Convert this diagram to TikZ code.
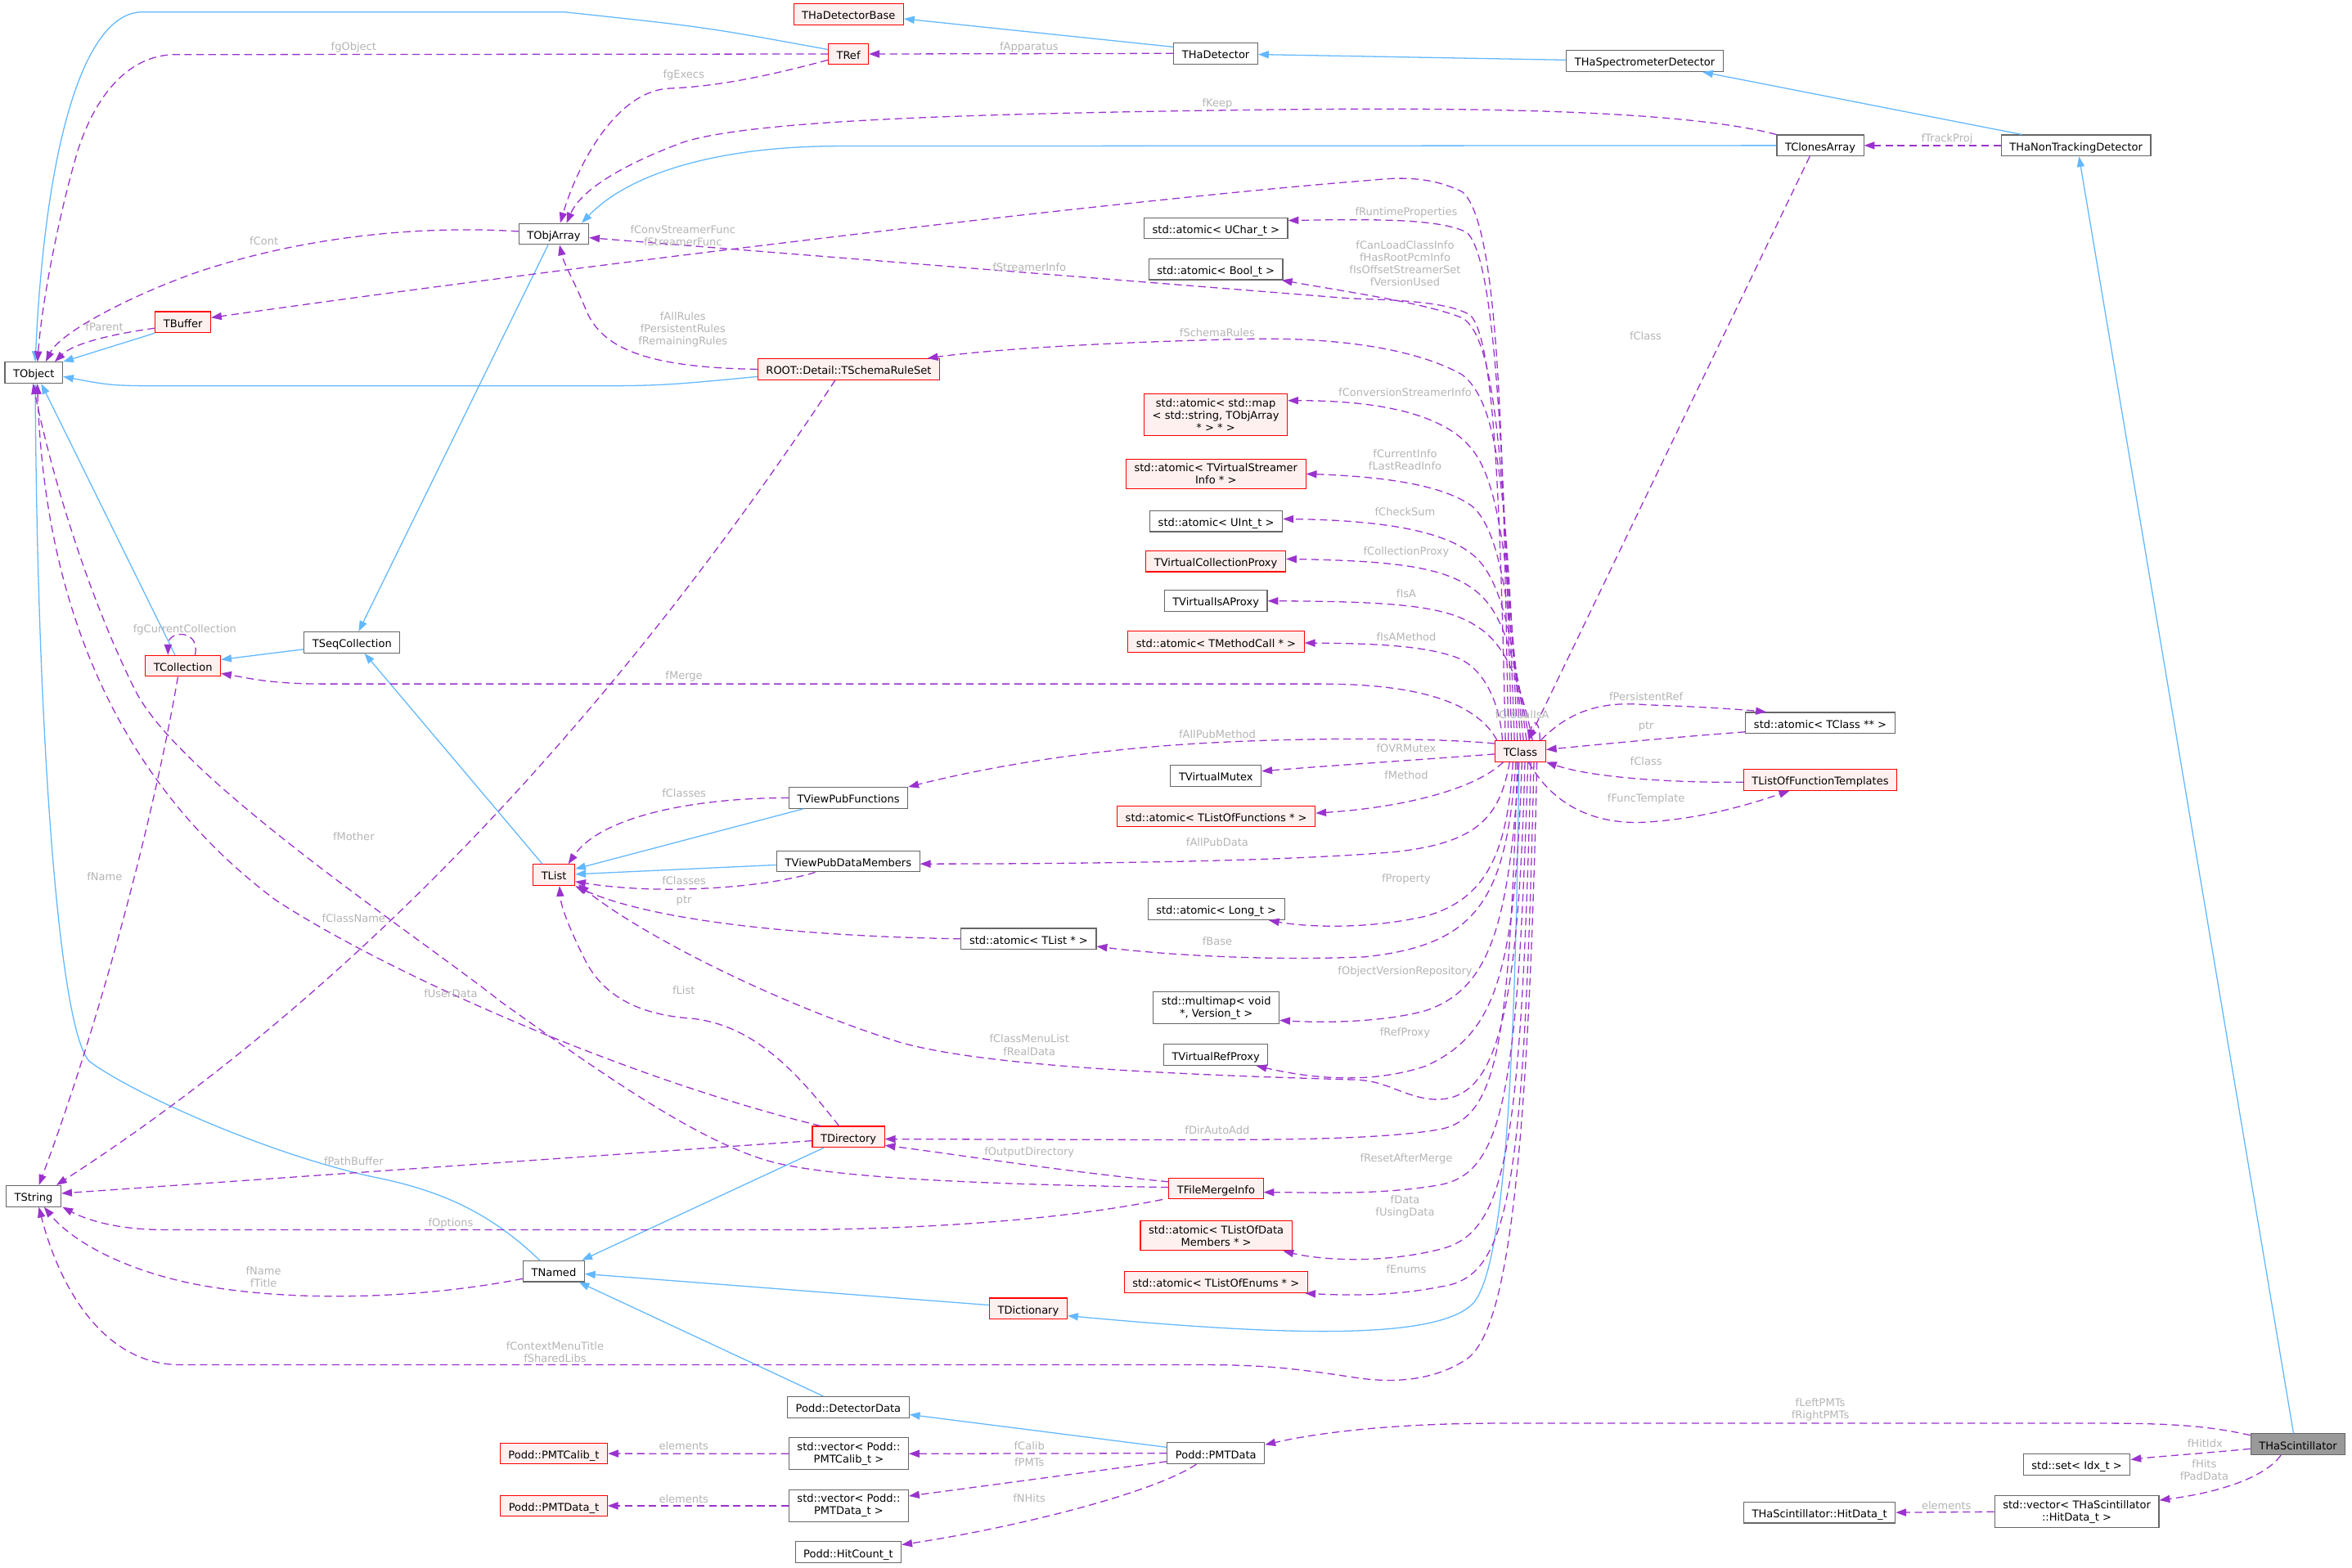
\documentclass[tikz,border=0pt]{standalone}
\usepackage{fontspec}
\setmainfont{DejaVu Sans}
\usepackage{tikz}
\usetikzlibrary{arrows.meta}
\definecolor{inhblue}{HTML}{63B8FF}
\definecolor{usepurple}{HTML}{9A32CD}
\definecolor{lblgray}{HTML}{B4B4B4}
\definecolor{redfill}{HTML}{FFF0F0}
\definecolor{redline}{HTML}{FF0000}
\definecolor{boxline}{HTML}{666666}
\definecolor{curfill}{HTML}{999999}

\begin{document}
\begin{tikzpicture}[x=1pt,y=-1pt,
	font=\fontsize{7.1}{8.2}\selectfont,
	cls/.style={draw=boxline,fill=white,line width=0.6pt,inner xsep=5.5pt,inner ysep=0pt,
		minimum height=14pt,text height=1.5ex,text depth=0.25ex},
	mcls/.style={draw=boxline,fill=white,line width=0.6pt,inner xsep=5.5pt,inner ysep=3pt,align=center},
	redbox/.style={draw=redline,fill=redfill},
	curbox/.style={fill=curfill},
	lbl/.style={text=lblgray,align=center,inner sep=0pt},
	inherit/.style={draw=inhblue,line width=0.7pt,-{Triangle[length=7pt,width=5pt]}},
	member/.style={draw=usepurple,line width=0.7pt,dash pattern=on 5pt off 3pt,-{Triangle[length=7pt,width=5pt]}}]
	\useasboundingbox (0,0) rectangle (1568,1045);

	\node[cls] (tobject) at (22.5,248.5) {TObject};
	\node[cls] (tstring) at (22.4,797.5) {TString};
	\node[cls,redbox] (thadetbase) at (565.7,9.4) {THaDetectorBase};
	\node[cls,redbox] (tref) at (565.6,36) {TRef};
	\node[cls] (thadet) at (810.5,35.6) {THaDetector};
	\node[cls] (thaspec) at (1096.5,40.7) {THaSpectrometerDetector};
	\node[cls] (tclones) at (1213.5,97) {TClonesArray};
	\node[cls] (thanontrack) at (1384,97) {THaNonTrackingDetector};
	\node[cls] (tobjarray) at (369.2,156) {TObjArray};
	\node[cls,redbox] (tbuffer) at (122,214.8) {TBuffer};
	\node[cls,redbox] (tschema) at (565.8,246.2) {ROOT::Detail::TSchemaRuleSet};
	\node[cls,redbox] (tcollection) at (122,444) {TCollection};
	\node[cls] (tseqcoll) at (234.7,428.3) {TSeqCollection};
	\node[cls] (tviewfunc) at (565.6,532) {TViewPubFunctions};
	\node[cls] (tviewdata) at (565.5,574.3) {TViewPubDataMembers};
	\node[cls,redbox] (tlist) at (369.3,583.4) {TList};
	\node[cls] (atomuchar) at (810.6,152.2) {std::atomic< UChar\_t >};
	\node[cls] (atombool) at (810.5,179.5) {std::atomic< Bool\_t >};
	\node[mcls,redbox] (atommap) at (810.5,276.7) {std::atomic< std::map\\< std::string, TObjArray\\{}* > * >};
	\node[mcls,redbox] (atomstreamer) at (810.6,316) {std::atomic< TVirtualStreamer\\Info * >};
	\node[cls] (atomuint) at (810.8,347.5) {std::atomic< UInt\_t >};
	\node[cls,redbox] (tvcollproxy) at (810.5,374.2) {TVirtualCollectionProxy};
	\node[cls] (tvisaproxy) at (810.5,400.7) {TVirtualIsAProxy};
	\node[cls,redbox] (atommethod) at (810.7,428) {std::atomic< TMethodCall * >};
	\node[cls,redbox] (tclass) at (1013.6,500.8) {TClass};
	\node[cls] (atomclass) at (1213.5,482) {std::atomic< TClass ** >};
	\node[cls,redbox] (tlistfunctempl) at (1213.5,520) {TListOfFunctionTemplates};
	\node[cls] (tvmutex) at (810.6,517.4) {TVirtualMutex};
	\node[cls,redbox] (atomfunctions) at (810.8,544.3) {std::atomic< TListOfFunctions * >};
	\node[cls] (atomlong) at (810.8,606.3) {std::atomic< Long\_t >};
	\node[cls] (atomtlist) at (685.8,626) {std::atomic< TList * >};
	\node[mcls] (multimap) at (810.8,672) {std::multimap< void\\{}*, Version\_t >};
	\node[cls] (tvrefproxy) at (810.5,703.4) {TVirtualRefProxy};
	\node[cls,redbox] (tdirectory) at (565.6,758) {TDirectory};
	\node[cls,redbox] (tfilemerge) at (810.7,792.5) {TFileMergeInfo};
	\node[mcls,redbox] (atomdatamem) at (810.8,824) {std::atomic< TListOfData\\Members * >};
	\node[cls,redbox] (atomenums) at (810.6,855) {std::atomic< TListOfEnums * >};
	\node[cls] (tnamed) at (369.2,847.6) {TNamed};
	\node[cls,redbox] (tdictionary) at (685.5,872.5) {TDictionary};
	\node[cls] (detectordata) at (565.5,938.2) {Podd::DetectorData};
	\node[mcls] (vecpmtcalib) at (565.8,969.3) {std::vector< Podd::\\PMTCalib\_t >};
	\node[cls,redbox] (pmtcalib) at (369.2,969.2) {Podd::PMTCalib\_t};
	\node[cls] (pmtdata) at (810.6,969) {Podd::PMTData};
	\node[mcls] (vecpmtdata) at (565.8,1004) {std::vector< Podd::\\PMTData\_t >};
	\node[cls,redbox] (pmtdatat) at (369.2,1004) {Podd::PMTData\_t};
	\node[cls] (hitcount) at (565.5,1035) {Podd::HitCount\_t};
	\node[cls,curbox] (thascint) at (1532,963) {THaScintillator};
	\node[cls] (setidx) at (1384.5,976.5) {std::set< Idx\_t >};
	\node[mcls] (vechitdata) at (1384.5,1008) {std::vector< THaScintillator\\::HitData\_t >};
	\node[cls] (hitdata) at (1213,1008.5) {THaScintillator::HitData\_t};

	\path[inherit] ([yshift=3]tref.west) .. controls (470,18) .. (376,8) -- (95,8) .. controls (55,8) and (30,100) .. ([xshift=1]tobject.north);
	\path[inherit] ([yshift=4.3]thadet.west) -- ([yshift=-3.1]thadetbase.east);
	\path[inherit] ([yshift=0.7]thaspec.west) -- ([yshift=-0.7]thadet.east);
	\path[inherit] ([xshift=-36]thanontrack.north) -- ([xshift=38.5]thaspec.south);
	\path[inherit] ([xshift=-3]thascint.north) -- ([xshift=2]thanontrack.south);
	\path[inherit] (tclones.west) -- (560,97.4) .. controls (480,97.4) and (420,115) .. ([xshift=-5]tobjarray.north east);
	\path[inherit] ([xshift=-3.8]tobjarray.south) -- ([xshift=4.4]tseqcoll.north);
	\path[inherit] ([yshift=-4.6]tseqcoll.west) -- ([yshift=4.2]tcollection.east);
	\path[inherit] ([xshift=-5.3]tcollection.north) -- ([xshift=5]tobject.south);
	\path[inherit] (tbuffer.south west) -- (tobject.north east);
	\path[inherit] ([yshift=-4.9]tschema.west) .. controls (440,257.3) .. (380,257.3) -- (120,257.3) .. controls (75,257.3) .. ([yshift=-2.6]tobject.east);
	\path[inherit] ([xshift=-7.7]tlist.north) -- ([xshift=8.3]tseqcoll.south);
	\path[inherit] ([xshift=-30]tviewfunc.south) -- ([yshift=4]tlist.east);
	\path[inherit] ([yshift=-2.4]tviewdata.west) -- ([yshift=0.5]tlist.east);
	\path[inherit] ([xshift=-9.4]tnamed.north) .. controls (330,812) and (300,795) .. (250,785) .. controls (180,770) and (90,730) .. (60,708) .. controls (40,690) and (25,500) .. ([xshift=1]tobject.south);
	\path[inherit] ([xshift=-16.4]tdirectory.south) -- ([xshift=-2]tnamed.north east);
	\path[inherit] ([yshift=2.3]tdictionary.west) -- ([yshift=-1.8]tnamed.east);
	\path[inherit] ([xshift=-16.7]detectordata.north) -- ([xshift=-4]tnamed.south east);
	\path[inherit] ([yshift=4]pmtdata.west) -- ([yshift=-5]detectordata.east);
	\path[inherit] ([xshift=-1]tclass.south) .. controls (1010,750) and (1000,845) .. (983,868) .. controls (960,895) and (850,890) .. ([yshift=-4.8]tdictionary.east);

	\path[member] (tref.west) -- (117,36.4) .. controls (88,36.4) and (65,60) .. (52,100) .. controls (40,140) and (28,200) .. ([xshift=2.5]tobject.north);
	\path[member] ([yshift=-4]tref.west) .. controls (500,54) and (470,58) .. (445,59) .. controls (410,62) and (385,110) .. ([xshift=4.3]tobjarray.north);
	\path[member] (thadet.west) -- (tref.east);
	\path[member] (tclones.north west) .. controls (1110,70) and (920,72) .. (811,73.6) .. controls (650,76) and (500,80) .. (455,95) .. controls (420,108) and (388,125) .. ([xshift=8.5]tobjarray.north);
	\path[member] (thanontrack.west) -- (tclones.east);
	\path[member] ([xshift=-7]tclones.south) -- ([xshift=5.4]tclass.north);
	\path[member] ([yshift=1.7]tobjarray.west) .. controls (280,150) and (200,158) .. (130,182) .. controls (85,198) and (40,222) .. ([xshift=8]tobject.north);
	\path[member] ([yshift=-4]tbuffer.west) .. controls (80,222) and (50,228) .. ([xshift=14]tobject.north);
	\path[member] ([xshift=-8]tclass.north) .. controls (1002,300) and (1000,150) .. (975,128) .. controls (955,118) and (935,118) .. (916,120) .. controls (760,132) and (400,175) .. ([yshift=3]tbuffer.east);
	\path[member] ([xshift=-10]tclass.north) .. controls (1000,330) and (996,225) .. (980,210) .. controls (965,201) and (930,200) .. (900,199) -- ([yshift=-2.5]tobjarray.east);
	\path[member] ([xshift=-6]tclass.north) .. controls (1002,250) and (993,170) .. (978,155) .. controls (960,146) and (920,146) .. ([yshift=5.2]atomuchar.east);
	\path[member] ([xshift=-4]tclass.north) .. controls (1003,300) and (996,225) .. (975,212) .. controls (950,202) and (900,195) .. ([xshift=-1]atombool.south east);
	\path[member] ([xshift=-2]tclass.north) .. controls (1004,330) and (1000,270) .. (975,250) .. controls (940,230) and (880,225) .. (833,226) .. controls (740,228) and (660,233) .. ([xshift=-8.4]tschema.north east);
	\path[member] (tclass.north) .. controls (1006,380) and (1000,320) .. (980,298) .. controls (965,280) and (930,267) .. ([yshift=9.6]atommap.east);
	\path[member] ([xshift=2]tclass.north) .. controls (1006,400) and (1000,355) .. (982,338) .. controls (965,325) and (930,318) .. (atomstreamer.east);
	\path[member] ([xshift=4]tclass.north) .. controls (1008,420) and (1000,385) .. (982,370) .. controls (965,356) and (930,347) .. ([yshift=1.5]atomuint.east);
	\path[member] ([xshift=6]tclass.north) .. controls (1010,440) and (1003,410) .. (985,395) .. controls (965,378) and (930,374) .. ([yshift=1.5]tvcollproxy.east);
	\path[member] ([xshift=8]tclass.north) .. controls (1015,460) and (1005,430) .. (985,418) .. controls (965,404) and (930,401) .. (tvisaproxy.east);
	\path[member] ([xshift=-12]tclass.north) .. controls (1000,470) and (990,445) .. (970,438) .. controls (950,431) and (920,429) .. ([yshift=-0.7]atommethod.east);
	\path[member] ([xshift=-15.6]tclass.north) .. controls (985,470) and (950,456) .. (880,456) -- (215,456) .. controls (180,456) and (165,452) .. ([yshift=-5]tcollection.east);
	\path[member] ([xshift=13]tclass.north) .. controls +(0,-14) and +(2,-14) .. ([xshift=6]tclass.north);
	\path[member] ([xshift=13.7]tclass.north) .. controls (1050,470) and (1075,468) .. (1098,470) .. controls (1130,471) and (1160,473) .. ([xshift=-36]atomclass.north);
	\path[member] ([yshift=-6]atomclass.west) .. controls (1110,492) and (1060,497) .. ([yshift=1]tclass.east);
	\path[member] ([yshift=-1.5]tlistfunctempl.west) .. controls (1110,522) and (1060,518) .. (tclass.south east);
	\path[member] ([xshift=5.4]tclass.south) .. controls (1040,545) and (1075,550) .. (1100,548) .. controls (1140,545) and (1170,535) .. ([xshift=-20.5]tlistfunctempl.south);
	\path[member] ([yshift=5]tclass.west) .. controls (960,492) and (860,491) .. (780,497) .. controls (700,503) and (640,516) .. ([yshift=7.3]tviewfunc.east);
	\path[member] ([yshift=-2]tclass.west) .. controls (940,507) and (880,511) .. ([yshift=3.2]tvmutex.east);
	\path[member] ([xshift=-11.4]tclass.south) .. controls (985,525) and (940,538) .. ([yshift=2.1]atomfunctions.east);
	\path[member] ([xshift=-7.2]tclass.south) .. controls (1000,545) and (985,562) .. (930,568) .. controls (850,575) and (700,576) .. ([yshift=-1.7]tviewdata.east);
	\path[member] ([xshift=-5]tclass.south) .. controls (1005,570) and (990,600) .. (950,611) .. controls (910,620) and (870,618) .. ([xshift=35]atomlong.south);
	\path[member] ([xshift=-3]tclass.south) .. controls (1004,600) and (985,630) .. (910,638) .. controls (840,641) and (770,636) .. ([yshift=-5]atomtlist.east);
	\path[member] ([xshift=-1]tclass.south) .. controls (1006,620) and (992,660) .. (950,674) .. controls (920,682) and (880,682) .. ([yshift=-8.3]multimap.east);
	\path[member] ([xshift=1]tclass.south) .. controls (1010,650) and (997,690) .. (950,711) .. controls (910,724) and (870,718) .. ([xshift=27]tvrefproxy.south);
	\path[member] ([xshift=3]tclass.south) .. controls (1012,690) and (995,735) .. (955,733) .. controls (935,731) and (925,721) .. (905,720) .. controls (800,717) and (660,712) .. (600,695) .. controls (520,670) and (430,625) .. ([xshift=2,yshift=1]tlist.south east);
	\path[member] ([xshift=-2]tclass.south) .. controls (1006,690) and (1000,745) .. (960,753) .. controls (920,760) and (850,760) .. (780,760) -- ([yshift=-1.5]tdirectory.east);
	\path[member] ([xshift=5]tclass.south) .. controls (1012,730) and (1002,782) .. (960,790) .. controls (920,797) and (880,795) .. ([yshift=-2.5]tfilemerge.east);
	\path[member] ([xshift=7]tclass.south) .. controls (1014,770) and (1004,822) .. (960,833) .. controls (920,843) and (880,840) .. ([xshift=44.6]atomdatamem.south);
	\path[member] ([xshift=9]tclass.south) .. controls (1016,800) and (1006,852) .. (960,858) .. controls (930,864) and (900,864) .. ([xshift=-2]atomenums.south east);
	\path[member] ([xshift=11]tclass.south) .. controls (1018,820) and (1000,895) .. (975,908) .. controls (955,920) and (930,923) .. (900,918) .. controls (860,912) and (840,910) .. (800,910) -- (120,910) .. controls (70,910) and (40,860) .. ([xshift=3.5]tstring.south);

	\path[member] ([xshift=-9]tschema.south) .. controls (440,430) and (270,640) .. ([xshift=15.2]tstring.north);
	\path[member] ([xshift=-3.4]tcollection.south) .. controls (100,560) and (60,700) .. ([xshift=3.5]tstring.north);
	\path[member] ([xshift=8]tcollection.north) .. controls +(4,-17) and +(0,-17) .. ([xshift=-10]tcollection.north);
	\path[member] ([xshift=-18.6]tdirectory.north) .. controls (420,720) and (260,650) .. (183.6,600) .. controls (90,530) and (30,420) .. ([xshift=2.4]tobject.south);
	\path[member] ([yshift=0.8]tfilemerge.west) .. controls (680,790) and (570,787) .. (520,776) .. controls (470,765) and (400,715) .. (334,668) .. controls (280,625) and (120,520) .. (90,460) .. controls (60,400) and (35,320) .. ([xshift=-0.5]tobject.south);
	\path[member] ([xshift=-6.3]tdirectory.north) .. controls (535,720) and (505,683) .. (460,679) .. controls (420,676) and (400,660) .. (390,640) .. controls (380,620) and (374,605) .. ([xshift=3.7]tlist.south);
	\path[member] (tviewfunc.west) .. controls (460,532) and (400,545) .. ([xshift=9.5]tlist.north);
	\path[member] ([xshift=-22]tviewdata.south) .. controls (510,592) and (440,597) .. ([yshift=-4.4]tlist.east);
	\path[member] (atomtlist.west) .. controls (520,624) and (430,612) .. ([yshift=-7.4]tlist.east);
	\path[member] ([yshift=4.5]tfilemerge.west) .. controls (700,780) and (640,770) .. ([yshift=-5.7]tdirectory.east);
	\path[member] ([xshift=-4]tfilemerge.south west) .. controls (700,815) and (600,820) .. (520,820) -- (110,820) .. controls (75,820) and (55,812) .. ([xshift=0.7]tstring.south east);
	\path[member] ([yshift=-2.6]tdirectory.west) -- ([yshift=1.8]tstring.east);
	\path[member] ([yshift=-5]tnamed.west) .. controls (280,866) and (200,868) .. (140,858) .. controls (90,850) and (50,830) .. ([xshift=7]tstring.south);
	\path[member] (tschema.west) .. controls (430,245) and (400,232) .. (390,205) .. controls (383,188) and (376,176) .. ([xshift=3.8]tobjarray.south);
	\path[member] ([yshift=6]thascint.west) .. controls (1470,950) and (1440,949) .. (1400,949) -- (1000,949) .. controls (930,949) and (880,955) .. ([yshift=5.7]pmtdata.east);
	\path[member] ([yshift=-3]thascint.west) .. controls (1470,969) and (1440,971) .. ([yshift=3.3]setidx.east);
	\path[member] ([xshift=-11.4]thascint.south) .. controls (1510,985) and (1480,995) .. ([yshift=7.7]vechitdata.east);
	\path[member] (vechitdata.west) -- (hitdata.east);
	\path[member] (vecpmtcalib.west) -- (pmtcalib.east);
	\path[member] (vecpmtdata.west) -- (pmtdatat.east);
	\path[member] (pmtdata.west) -- (vecpmtcalib.east);
	\path[member] ([yshift=-5.5]pmtdata.west) -- ([yshift=6.5]vecpmtdata.east);
	\path[member] ([xshift=-13]pmtdata.south) .. controls (770,995) and (680,1018) .. ([yshift=5]hitcount.east);

	\node[lbl] (l-fgobject) at (235.8,31.8) {fgObject};
	\node[lbl] (l-fapparatus) at (686,31.7) {fApparatus};
	\node[lbl] (l-fgexecs) at (455.8,50) {fgExecs};
	\node[lbl] (l-fkeep) at (811.5,69.3) {fKeep};
	\node[lbl] (l-ftrackproj) at (1298,92.7) {fTrackProj};
	\node[lbl] (l-fclassclones) at (1097,223.7) {fClass};
	\node[lbl] (l-fcont) at (176,160.5) {fCont};
	\node[lbl] (l-fconvstreamer) at (455.3,157) {fConvStreamerFunc\\fStreamerFunc};
	\node[lbl] (l-fparent) at (69.6,218.2) {fParent};
	\node[lbl] (l-fstreamerinfo) at (686.2,178.2) {fStreamerInfo};
	\node[lbl] (l-fruntime) at (937.5,141.9) {fRuntimeProperties};
	\node[lbl] (l-fcanload) at (936.7,175.7) {fCanLoadClassInfo\\fHasRootPcmInfo\\fIsOffsetStreamerSet\\fVersionUsed};
	\node[lbl] (l-fschemarules) at (811.5,221.6) {fSchemaRules};
	\node[lbl] (l-fallrules) at (455.3,219.9) {fAllRules\\fPersistentRules\\fRemainingRules};
	\node[lbl] (l-fconversion) at (936.7,261.7) {fConversionStreamerInfo};
	\node[lbl] (l-fcurrentinfo) at (936.7,306.8) {fCurrentInfo\\fLastReadInfo};
	\node[lbl] (l-fchecksum) at (936.7,341.4) {fCheckSum};
	\node[lbl] (l-fcollproxy) at (937.5,368) {fCollectionProxy};
	\node[lbl] (l-fisa) at (937.5,395.7) {fIsA};
	\node[lbl] (l-fisamethod) at (937.5,424.5) {fIsAMethod};
	\node[lbl] (l-fgcurrent) at (123.2,419.9) {fgCurrentCollection};
	\node[lbl] (l-fmerge) at (456,451.2) {fMerge};
	\node[lbl] (l-fglobalisa) at (1014.8,476.7) {fGlobalIsA};
	\node[lbl] (l-fpersistentref) at (1097.4,464.6) {fPersistentRef};
	\node[lbl] (l-ptrclass) at (1097.4,484.2) {ptr};
	\node[lbl] (l-fclasstempl) at (1097.4,507.6) {fClass};
	\node[lbl] (l-ffunctemplate) at (1097.4,532.6) {fFuncTemplate};
	\node[lbl] (l-fallpubmethod) at (811.5,489.6) {fAllPubMethod};
	\node[lbl] (l-fovrmutex) at (937.5,498.8) {fOVRMutex};
	\node[lbl] (l-fmethod) at (937.5,516.7) {fMethod};
	\node[lbl] (l-fclassestop) at (456,528.9) {fClasses};
	\node[lbl] (l-fmother) at (235.8,557.6) {fMother};
	\node[lbl] (l-fallpubdata) at (811.5,561.4) {fAllPubData};
	\node[lbl] (l-fclassesbottom) at (456,587) {fClasses};
	\node[lbl] (l-fnamecoll) at (69.7,584.3) {fName};
	\node[lbl] (l-fproperty) at (937.5,586.4) {fProperty};
	\node[lbl] (l-ptrlist) at (456,600.4) {ptr};
	\node[lbl] (l-fclassname) at (235.8,612.4) {fClassName};
	\node[lbl] (l-fbase) at (811.5,627.8) {fBase};
	\node[lbl] (l-fobjversion) at (936.7,647.8) {fObjectVersionRepository};
	\node[lbl] (l-flist) at (455.8,660.5) {fList};
	\node[lbl] (l-fuserdata) at (300.5,662.6) {fUserData};
	\node[lbl] (l-frefproxy) at (936.7,688.6) {fRefProxy};
	\node[lbl] (l-fclassmenu) at (686.2,696.8) {fClassMenuList\\fRealData};
	\node[lbl] (l-fdirautoadd) at (811.5,753.7) {fDirAutoAdd};
	\node[lbl] (l-foutputdir) at (686.2,768.3) {fOutputDirectory};
	\node[lbl] (l-fresetafter) at (937.5,772.5) {fResetAfterMerge};
	\node[lbl] (l-fpathbuffer) at (235.8,774.5) {fPathBuffer};
	\node[lbl] (l-foptions) at (300.5,815.6) {fOptions};
	\node[lbl] (l-fdata) at (936.7,804.9) {fData\\fUsingData};
	\node[lbl] (l-fenums) at (937.5,846) {fEnums};
	\node[lbl] (l-fnametitle) at (175.7,851.4) {fName\\fTitle};
	\node[lbl] (l-fcontextmenu) at (370,901.6) {fContextMenuTitle\\fSharedLibs};
	\node[lbl] (l-fleftpmts) at (1213.5,940.1) {fLeftPMTs\\fRightPMTs};
	\node[lbl] (l-fhitidx) at (1470,962.4) {fHitIdx};
	\node[lbl] (l-fhits) at (1469.5,980.2) {fHits\\fPadData};
	\node[lbl] (l-fcalib) at (686.2,964.1) {fCalib};
	\node[lbl] (l-fpmts) at (686.2,975) {fPMTs};
	\node[lbl] (l-fnhits) at (686.2,998.7) {fNHits};
	\node[lbl] (l-elemcalib) at (455.8,964.3) {elements};
	\node[lbl] (l-elemdata) at (455.8,999.3) {elements};
	\node[lbl] (l-elemhit) at (1297.6,1003.6) {elements};
\end{tikzpicture}
\end{document}
